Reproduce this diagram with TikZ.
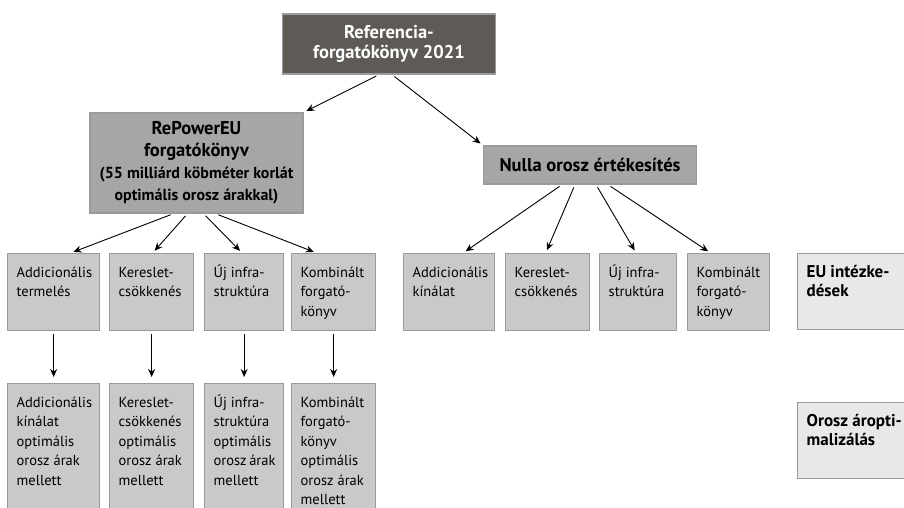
\documentclass[tikz,border=0pt]{standalone}
\usepackage{fontspec}
\setmainfont{PT Sans}
\usepackage{tikz}
\usetikzlibrary{arrows.meta}
\definecolor{refdark}{HTML}{5E5A56}
\definecolor{mainfill}{HTML}{A7A6A5}
\definecolor{cellfill}{HTML}{C9C9C9}
\definecolor{notefill}{HTML}{E8E8E8}
\definecolor{boxline}{HTML}{9A9A9A}
\newcommand{\celltext}[3]{\parbox[t][#2][t]{#1}{\raggedright\strut #3}}
\newcommand{\smallbold}{\fontsize{16}{19}\selectfont}
\tikzset{
	>={Stealth[length=8pt,width=7pt]}, % filled arrow heads
	link/.style={->, line width=0.9pt, shorten >=3pt, shorten <=3pt},
	anybox/.style={draw=boxline, line width=1.3pt, rectangle},
	refbox/.style={anybox, fill=refdark, text=white, align=center,
		font=\bfseries\fontsize{18.5}{20.5}\selectfont,
		minimum width=213pt, minimum height=60pt},
	mainbox/.style={anybox, fill=mainfill, align=center,
		font=\bfseries\fontsize{18.5}{22}\selectfont, minimum width=213pt},
	cell/.style={anybox, fill=cellfill, anchor=north west,
		inner xsep=9pt, inner ysep=10pt,
		font=\fontsize{14.5}{19.5}\selectfont},
	note/.style={cell, fill=notefill,
		font=\bfseries\fontsize{17}{19.5}\selectfont},
}
\begin{document}
\begin{tikzpicture}[x=1pt, y=-1pt]
	\useasboundingbox (0,0) rectangle (904,508);

	% scenarios
	\node[refbox] (ref) at (389,44) {Referencia-\\forgatókönyv 2021};
	\node[mainbox, minimum height=100pt] (rep) at (196.5,163)
		{RePowerEU\\forgatókönyv\\\smallbold(55 milliárd köbméter korlát\\\smallbold optimális orosz árakkal)};
	\node[mainbox, minimum height=38pt] (zero) at (590,165) {Nulla orosz értékesítés};

	% EU measures under RePowerEU
	\node[cell] (add) at (7,253) {\celltext{74pt}{57pt}{Addicionális\\termelés}};
	\node[cell] (dem) at (109,253) {\celltext{66pt}{57pt}{Kereslet-\\csökkenés}};
	\node[cell] (inf) at (204,253) {\celltext{61pt}{57pt}{Új~infra-\\struktúra}};
	\node[cell] (comb) at (291,253) {\celltext{66pt}{57pt}{Kombinált\\forgató-\\könyv}};

	% with optimal russian prices
	\node[cell] (addopt) at (7,383) {\celltext{74pt}{117pt}{Addicionális\\kínálat\\optimális\\orosz~árak\\mellett}};
	\node[cell] (demopt) at (109,383) {\celltext{66pt}{117pt}{Kereslet-\\csökkenés\\optimális\\orosz~árak\\mellett}};
	\node[cell] (infopt) at (204,383) {\celltext{61pt}{117pt}{Új~infra-\\struktúra\\optimális\\orosz~árak\\mellett}};
	\node[cell] (combopt) at (291,383) {\celltext{66pt}{117pt}{Kombinált\\forgató-\\könyv\\optimális\\orosz~árak\\mellett}};

	% EU measures under zero sales
	\node[cell] (zadd) at (403,253) {\celltext{73pt}{57pt}{Addicionális\\kínálat}};
	\node[cell] (zdem) at (505,253) {\celltext{66pt}{57pt}{Kereslet-\\csökkenés}};
	\node[cell] (zinf) at (599,253) {\celltext{59pt}{57pt}{Új~infra-\\struktúra}};
	\node[cell] (zcomb) at (687,253) {\celltext{64pt}{57pt}{Kombinált\\forgató-\\könyv}};

	% row legend
	\node[note] (eu) at (797,253) {\celltext{110pt}{56pt}{EU~intézke-\\dések}};
	\node[note] (rus) at (797,402) {\celltext{110pt}{56pt}{Orosz~áropti-\\malizálás}};

	\draw[link] ([xshift=-10pt]ref.south) -- (rep.north east);
	\draw[link] ([xshift=3pt]ref.south) -- (zero.north west);

	\draw[link] ([xshift=-23pt]rep.south) -- ([xshift=17pt]add.north);
	\draw[link] ([xshift=-9pt]rep.south) -- ([xshift=1pt]dem.north);
	\draw[link] ([xshift=7pt]rep.south) -- ([xshift=-2pt]inf.north);
	\draw[link] ([xshift=19pt]rep.south) -- ([xshift=-17pt]comb.north);

	\draw[link] ([xshift=-28pt]zero.south) -- ([xshift=14pt]zadd.north);
	\draw[link] ([xshift=-15pt]zero.south) -- ([xshift=-2pt]zdem.north);
	\draw[link] ([xshift=6pt]zero.south) -- ([xshift=-2pt]zinf.north);
	\draw[link] ([xshift=18pt]zero.south) -- ([xshift=-18pt]zcomb.north);

	\draw[link, shorten >=6pt] (add) -- (addopt);
	\draw[link, shorten >=6pt] (dem) -- (demopt);
	\draw[link, shorten >=6pt] (inf) -- (infopt);
	\draw[link, shorten >=6pt] (comb) -- (combopt);
\end{tikzpicture}
\end{document}
